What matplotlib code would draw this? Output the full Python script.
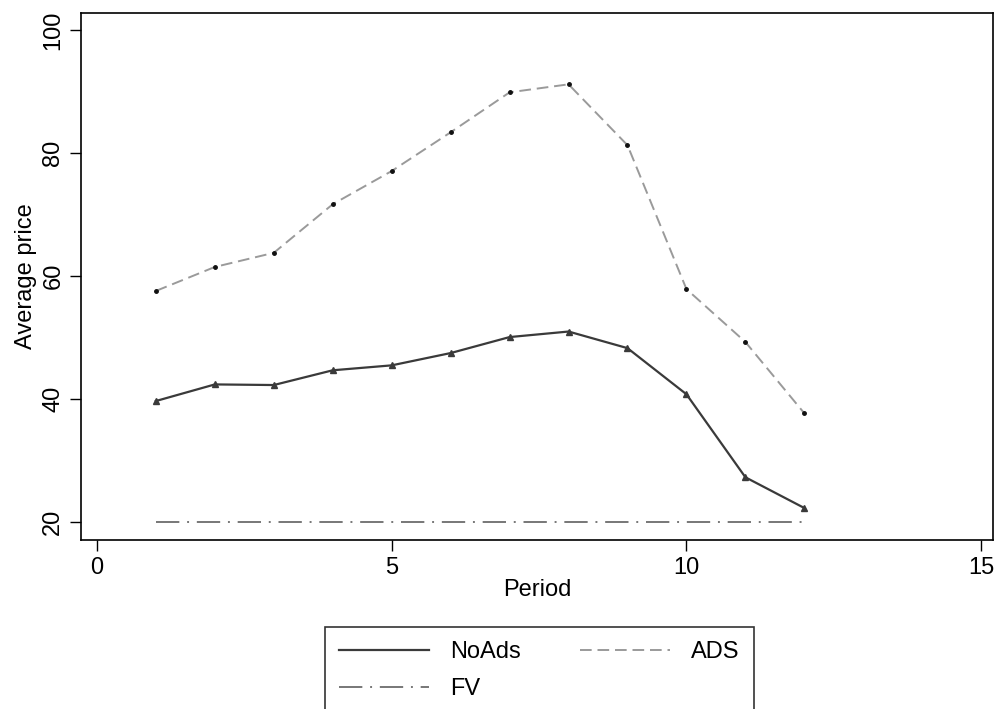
import matplotlib
matplotlib.use("Agg")
import matplotlib.pyplot as plt
from matplotlib.lines import Line2D

plt.rcParams['font.family'] = ['Liberation Sans', 'DejaVu Sans']

period = [1, 2, 3, 4, 5, 6, 7, 8, 9, 10, 11, 12]
noads = [39.7, 42.4, 42.3, 44.7, 45.5, 47.5, 50.1, 51.0, 48.3, 40.8, 27.3, 22.3]
ads = [57.6, 61.5, 63.8, 71.7, 77.1, 83.4, 89.9, 91.2, 81.3, 57.9, 49.3, 37.7]
fv = [20] * 12
xticks = [0, 5, 10, 15]
yticks = [20, 40, 60, 80, 100]

c_noads = '#3a3a3a'
c_ads = '#9a9a9a'
c_fv = '#777777'
ls_ads = (0, (6, 3))
ls_fv = (0, (12, 4, 1, 4))
fs = 17

fig = plt.figure(figsize=(9.95, 7.09), dpi=100)
ax = fig.add_axes([81/995, 1-540/709, (993-81)/995, (540-13)/709])

ax.plot(period, noads, color=c_noads, lw=1.6, marker='^', ms=5)
ax.plot(period, ads, color=c_ads, lw=1.4, ls=ls_ads, marker='o', ms=2.5,
        mfc='#111111', mec='#111111')
ax.plot(period, fv, color=c_fv, lw=1.4, ls=ls_fv)

ax.set_xlim(-0.27, 15.2)
ax.set_ylim(17.1, 102.8)
ax.set_xticks(xticks)
ax.set_yticks(yticks)
ax.tick_params(direction='out', length=8, width=1, labelsize=fs, colors='black', pad=4)
for lbl in ax.get_yticklabels():
    lbl.set_rotation(90)
    lbl.set_va('center')
for s in ax.spines.values():
    s.set_linewidth(1.2)
ax.set_xlabel('Period', fontsize=fs, labelpad=0)
ax.set_ylabel('Average price', fontsize=fs, labelpad=4)

handles = [Line2D([], [], color=c_noads, lw=1.6),
           Line2D([], [], color=c_fv, lw=1.4, ls=ls_fv),
           Line2D([], [], color=c_ads, lw=1.4, ls=ls_ads)]
labels = ['NoAds', 'FV', 'ADS']
leg = fig.legend(handles, labels, loc='upper left', bbox_to_anchor=(325/995, 1-627/709), ncol=2,
                 fontsize=fs, frameon=True, fancybox=False, edgecolor='black',
                 handlelength=3.8, columnspacing=2.5, handletextpad=0.9,
                 borderpad=0.6, labelspacing=0.64, borderaxespad=0)
leg.get_frame().set_linewidth(1.2)

fig.savefig('out.png', dpi=100)
